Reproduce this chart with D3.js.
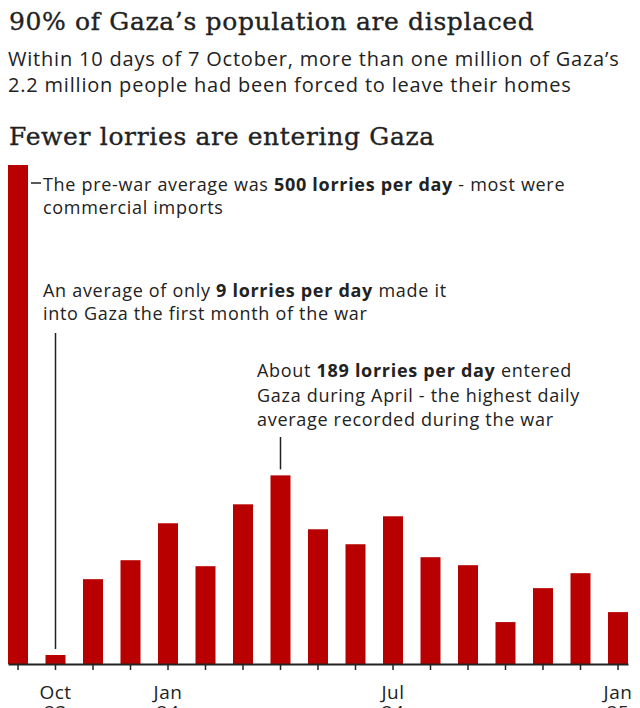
<!DOCTYPE html>
<html>
<head>
<meta charset="utf-8">
<script src="https://cdn.jsdelivr.net/npm/d3@7"></script>
<style>
  html, body { margin: 0; padding: 0; background: #fff; }
  svg { display: block; }
  .sans { font-family: "Open Sans", "Noto Sans", sans-serif; }
  .serif { font-family: "DejaVu Serif", serif; }
</style>
</head>
<body>
<svg id="chart" width="640" height="708"></svg>
<script>
// ---- Data ----
const categories = ["Pre-war","Oct 23","Nov 23","Dec 23","Jan 24","Feb 24","Mar 24","Apr 24","May 24","Jun 24","Jul 24","Aug 24","Sep 24","Oct 24","Nov 24","Dec 24","Jan 25"];
const lorriesPerDay = [500, 9, 85, 104, 141, 98, 160, 189, 135, 120, 148, 107, 99, 42, 76, 91, 52];
const labeledTicks = ["Oct 23", "Jan 24", "Jul 24", "Jan 25"];
const tickMonth = ["Oct", "Jan", "Jul", "Jan"];
const tickYear = ["23", "24", "24", "25"];

const title = "90% of Gaza\u2019s population are displaced";
const subtitleLines = ["Within 10 days of 7 October, more than one million of Gaza\u2019s",
                       "2.2 million people had been forced to leave their homes"];
const chartTitle = "Fewer lorries are entering Gaza";

// ---- Setup ----
const svg = d3.select("#chart");
const ink = "#222222";
const red = "#b80000";

const x = d3.scaleBand()
  .domain(categories)
  .range([8, 628])
  .paddingInner(17.5 / 37.5)
  .paddingOuter(0);

const y = d3.scaleLinear().domain([0, 500]).range([664, 165]);

// Titles
function serifTitle(txt, xp, yp) {
  svg.append("text").attr("class", "serif")
    .attr("x", xp).attr("y", yp)
    .attr("font-size", 25).attr("letter-spacing", 0.65)
    .attr("fill", ink).attr("stroke", ink).attr("stroke-width", 0.35)
    .text(txt);
}
serifTitle(title, 9, 30);

svg.append("g").selectAll("text").data(subtitleLines).join("text")
  .attr("class", "sans")
  .attr("x", 8).attr("y", (d, i) => 66 + i * 26)
  .attr("font-size", 20).attr("letter-spacing", 0.8).attr("fill", ink)
  .text(d => d);

serifTitle(chartTitle, 9, 145);

// Bars
svg.append("g").selectAll("rect").data(lorriesPerDay).join("rect")
  .attr("x", (d, i) => x(categories[i]))
  .attr("y", d => y(d))
  .attr("width", x.bandwidth())
  .attr("height", d => y(0) - y(d))
  .attr("fill", red);

// Axis
const axis = d3.axisBottom(x).tickSize(6).tickSizeOuter(0).tickFormat("");
const gAxis = svg.append("g").attr("transform", `translate(0,${y(0)})`).call(axis);
gAxis.select(".domain").attr("stroke", ink).attr("stroke-width", 2);
gAxis.selectAll(".tick line").attr("stroke", ink).attr("stroke-width", 1.5);

const cx = c => x(c) + x.bandwidth() / 2;

const labG = svg.append("g").attr("class", "sans").attr("font-size", 19)
  .attr("letter-spacing", 0.5).attr("fill", ink).attr("text-anchor", "middle");
labeledTicks.forEach((c, i) => {
  labG.append("text").attr("x", cx(c)).attr("y", 699).text(tickMonth[i]);
  labG.append("text").attr("x", cx(c)).attr("y", 719).text(tickYear[i]);
});

// Annotations
function annot(xp, yp, lines, lh) {
  const t = svg.append("text").attr("class", "sans").attr("font-size", 18)
    .attr("letter-spacing", 0.7).attr("fill", ink);
  lines.forEach((parts, li) => {
    parts.forEach((p, pi) => {
      const ts = t.append("tspan").text(p.t);
      if (p.b) ts.attr("font-weight", 700);
      if (pi === 0) ts.attr("x", xp).attr("y", yp + li * lh);
    });
  });
}

// pre-war
svg.append("line").attr("x1", x("Pre-war") + x.bandwidth() + 3).attr("x2", x("Pre-war") + x.bandwidth() + 13)
  .attr("y1", 183).attr("y2", 183).attr("stroke", ink).attr("stroke-width", 1.5);
annot(43, 191, [
  [{t: "The pre-war average was "}, {t: "500 lorries per day", b: true}, {t: " - most were"}],
  [{t: "commercial imports"}]
], 23);

// Oct 23
annot(43, 297, [
  [{t: "An average of only "}, {t: "9 lorries per day", b: true}, {t: " made it"}],
  [{t: "into Gaza the first month of the war"}]
], 23);
svg.append("line").attr("x1", cx("Oct 23")).attr("x2", cx("Oct 23"))
  .attr("y1", 333).attr("y2", y(lorriesPerDay[1]) - 6).attr("stroke", ink).attr("stroke-width", 1.5);

// Apr 24
annot(257, 377, [
  [{t: "About "}, {t: "189 lorries per day", b: true}, {t: " entered"}],
  [{t: "Gaza during April - the highest daily"}],
  [{t: "average recorded during the war"}]
], 24.5);
svg.append("line").attr("x1", cx("Apr 24")).attr("x2", cx("Apr 24"))
  .attr("y1", 437).attr("y2", y(lorriesPerDay[7]) - 6).attr("stroke", ink).attr("stroke-width", 1.5);
</script>
</body>
</html>
